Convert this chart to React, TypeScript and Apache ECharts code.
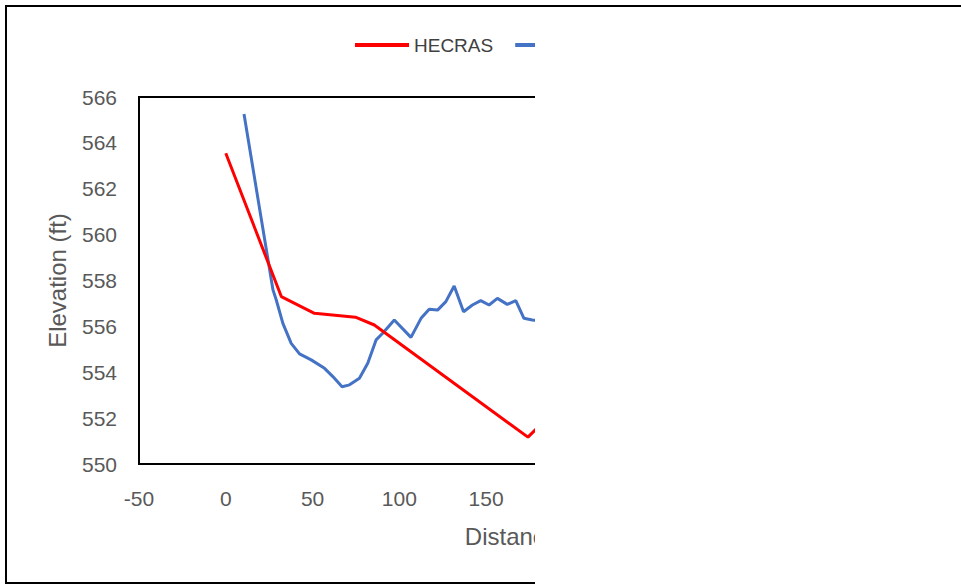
import React, { useEffect, useRef } from "react";
import * as echarts from "echarts";

// HEC-RAS cross-section (distance ft, elevation ft)
const hecrasDist = [0, 32, 51.1, 74.7, 85.6, 174.1, 200];
const hecrasElev = [563.55, 557.3, 556.57, 556.4, 556.06, 551.17, 553.1];

// Surveyed ground profile
const surveyDist = [10.5, 27.2, 29.1, 32.9, 37.7, 42.5, 49.2, 56.9, 61.7, 67.0, 71.3, 77.0, 81.8, 86.6, 90.4, 97.1, 106.7, 112.5, 117.2, 122.0, 126.8, 131.6, 137.0, 142.1, 146.9, 151.7, 156.5, 162.2, 167.1, 171.8, 176.6, 185];
const surveyElev = [565.26, 557.59, 557.15, 556.13, 555.26, 554.8, 554.54, 554.17, 553.81, 553.37, 553.45, 553.74, 554.39, 555.41, 555.7, 556.28, 555.52, 556.35, 556.75, 556.71, 557.08, 557.76, 556.64, 556.93, 557.12, 556.93, 557.22, 556.96, 557.12, 556.35, 556.28, 556.2];

const seriesNames = ["HECRAS", "Survey"];
const seriesColors = ["#FF0000", "#4472C4"];

const xMin = -50;
const xMax = 400;
const xStep = 50;
const yMin = 550;
const yMax = 566;
const yStep = 2;

const xTitle = "Distance (ft)";
const yTitle = "Elevation (ft)";

const FONT = "'Liberation Sans', Arial, sans-serif";
const TEXT = "#595959";

export default function App() {
  const ref = useRef<HTMLDivElement>(null);
  useEffect(() => {
    if (!ref.current) return;
    const chart = echarts.init(ref.current, undefined, { renderer: "svg" });
    const pair = (xs: number[], ys: number[]) => xs.map((x, i) => [x, ys[i]]);
    chart.setOption({
      animation: false,
      backgroundColor: "#ffffff",
      textStyle: { fontFamily: FONT },
      legend: {
        left: 355,
        top: 34,
        padding: 0,
        itemWidth: 54,
        itemHeight: 4,
        itemGap: 22,
        icon: "rect",
        textStyle: { color: "#404040", fontSize: 19, fontFamily: FONT, lineHeight: 22 },
        data: seriesNames,
      },
      grid: {
        left: 139,
        top: 97,
        width: 781,
        height: 367,
        show: true,
        borderColor: "#000000",
        borderWidth: 2,
        containLabel: false,
      },
      xAxis: {
        type: "value",
        min: xMin,
        max: xMax,
        interval: xStep,
        name: xTitle,
        nameLocation: "middle",
        nameGap: 60,
        nameTextStyle: { color: TEXT, fontSize: 24, fontFamily: FONT },
        axisLine: { show: true, onZero: false, lineStyle: { color: "#000000", width: 2 } },
        axisTick: { show: false },
        splitLine: { show: false },
        axisLabel: { color: TEXT, fontSize: 21, fontFamily: FONT, margin: 24 },
      },
      yAxis: {
        type: "value",
        min: yMin,
        max: yMax,
        interval: yStep,
        name: yTitle,
        nameLocation: "middle",
        nameGap: 70,
        nameTextStyle: { color: TEXT, fontSize: 24, fontFamily: FONT },
        axisLine: { show: true, onZero: false, lineStyle: { color: "#000000", width: 2 } },
        axisTick: { show: false },
        splitLine: { show: false },
        axisLabel: { color: TEXT, fontSize: 21, fontFamily: FONT, margin: 22 },
      },
      series: [
        {
          name: seriesNames[0],
          type: "line",
          data: pair(hecrasDist, hecrasElev),
          showSymbol: false,
          symbol: "none",
          lineStyle: { color: seriesColors[0], width: 3 },
          itemStyle: { color: seriesColors[0] },
          z: 3,
        },
        {
          name: seriesNames[1],
          type: "line",
          data: pair(surveyDist, surveyElev),
          showSymbol: false,
          symbol: "none",
          lineStyle: { color: seriesColors[1], width: 3 },
          itemStyle: { color: seriesColors[1] },
          z: 2,
        },
      ],
      graphic: [
        {
          type: "rect",
          z: 99,
          shape: { x: 6, y: 6, width: 1100, height: 577 },
          style: { fill: "none", stroke: "#000000", lineWidth: 2 },
          silent: true,
        },
        {
          type: "rect",
          z: 100,
          shape: { x: 535, y: 8, width: 500, height: 600 },
          style: { fill: "#ffffff" },
          silent: true,
        },
      ],
    });
    return () => chart.dispose();
  }, []);
  return (
    <div
      ref={ref}
      style={{ position: "absolute", left: 0, top: 0, width: 961, height: 585 }}
    />
  );
}
